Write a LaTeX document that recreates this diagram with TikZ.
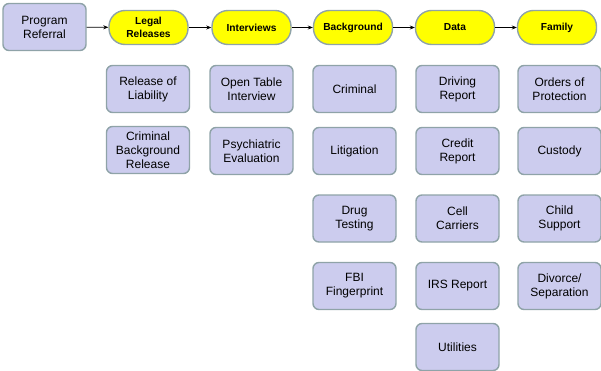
\documentclass[tikz,border=0pt]{standalone}
\usepackage{fontspec}
\setmainfont{Liberation Sans}
\usetikzlibrary{arrows.meta}
\definecolor{boxfill}{HTML}{CCCCEE}
\definecolor{boxline}{HTML}{8FA3A8}
\definecolor{pillfill}{HTML}{FFFF00}
\begin{document}
\begin{tikzpicture}[x=1pt,y=-1pt,
  card/.style={draw=boxline, line width=1.4pt, fill=boxfill, rounded corners=6pt,
    minimum width=83pt, minimum height=47pt, align=center, inner sep=1pt,
    font=\fontsize{12}{14}\selectfont},
  pill/.style={draw=boxline, line width=1.4pt, fill=pillfill, rounded corners=16pt,
    minimum width=79pt, minimum height=34pt, align=center, inner sep=1pt,
    font=\fontsize{10.2}{12.7}\selectfont\bfseries},
  link/.style={draw=black, line width=0.7pt, -{Stealth[length=5pt,width=4pt]}}]
\useasboundingbox (0,0) rectangle (601,371);
\node[card] (pr) at (44.5,27) {Program\\Referral};
\node[pill] (lr) at (148.5,27.5) {Legal\\Releases};
\node[pill] (iv) at (251.5,27.5) {Interviews};
\node[pill] (bg) at (353,27.5) {Background};
\node[pill] (da) at (455,27.5) {Data};
\node[pill] (fa) at (557,27.5) {Family};
\draw[link] (pr) -- (lr);
\draw[link] (lr) -- (iv);
\draw[link] (iv) -- (bg);
\draw[link] (bg) -- (da);
\draw[link] (da) -- (fa);
% column 1
\node[card] (rl) at (148,89) {Release of\\Liability};
\node[card] (cb) at (148,150) {Criminal\\Background\\Release};
% column 2
\node[card] (ot) at (251.5,89) {Open Table\\Interview};
\node[card] (pe) at (251.5,151) {Psychiatric\\Evaluation};
% column 3
\node[card] (cr) at (354.5,89) {Criminal};
\node[card] (li) at (354.5,151) {Litigation};
\node[card] (dt) at (354.5,218.5) {Drug\\Testing};
\node[card] (fb) at (354.5,286) {FBI\\Fingerprint};
% column 4
\node[card] (dr) at (457.5,89) {Driving\\Report};
\node[card] (cp) at (457.5,151) {Credit\\Report};
\node[card] (cc) at (457.5,218.5) {Cell\\Carriers};
\node[card] (ir) at (457.5,286) {IRS Report};
\node[card] (ut) at (457.5,347) {Utilities};
% column 5
\node[card] (op) at (559.5,89) {Orders of\\Protection};
\node[card] (cu) at (559.5,151) {Custody};
\node[card] (cs) at (559.5,218.5) {Child\\Support};
\node[card] (ds) at (559.5,286) {Divorce/\\Separation};
\end{tikzpicture}
\end{document}
